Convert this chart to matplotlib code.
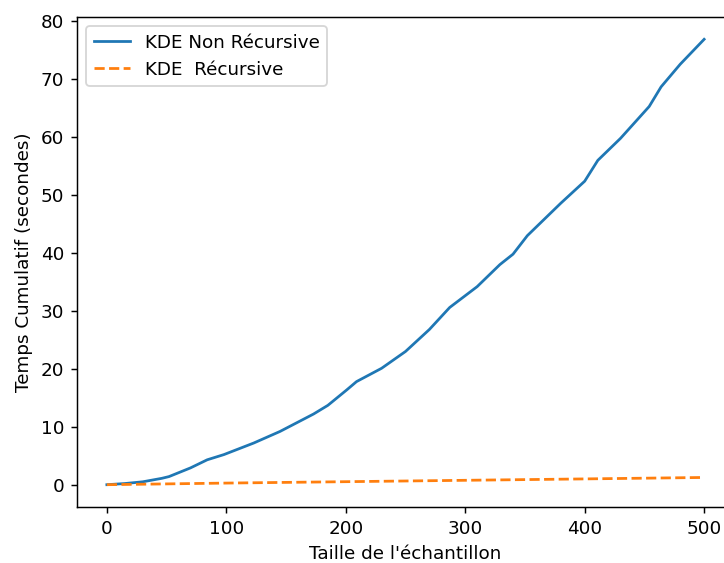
import matplotlib
matplotlib.use("Agg")
import matplotlib.pyplot as plt

# Taille de l'échantillon
sizes = [0, 15, 30, 46, 52, 70, 84, 98, 123, 145, 173, 185, 201, 209, 230, 250,
         270, 287, 310, 329, 340, 352, 366, 380, 400, 411, 430, 454, 464, 480, 500]
# Temps cumulatif KDE non récursive (s)
t_non_rec = [0.0, 0.2, 0.5, 1.1, 1.4, 2.9, 4.3, 5.2, 7.2, 9.2, 12.2, 13.7, 16.4, 17.8,
             20.1, 23.0, 26.8, 30.6, 34.2, 38.0, 39.8, 43.0, 45.8, 48.6, 52.4, 56.0,
             59.8, 65.3, 68.7, 72.6, 76.9]

# Temps cumulatif KDE récursive (s)
sizes_rec = [0, 100, 200, 300, 400, 500]
t_rec = [0.0, 0.28, 0.52, 0.76, 1.0, 1.25]

DPI = 132  # reference looks rendered at ~1.32x the default scale
fig = plt.figure(figsize=(724 / DPI, 563 / DPI), dpi=DPI)
ax = fig.add_axes([77 / 724, 56 / 563, 657 / 724, 490 / 563])

ax.plot(sizes, t_non_rec, label="KDE Non Récursive")
ax.plot(sizes_rec, t_rec, linestyle="--", label="KDE  Récursive")

ax.set_xlim(-25, 525)
ax.set_ylim(-3.85, 80.75)
ax.set_xlabel("Taille de l'échantillon")
ax.set_ylabel("Temps Cumulatif (secondes)")
ax.legend(loc="upper left")

fig.savefig("out.png", dpi=DPI)
plt.close(fig)
